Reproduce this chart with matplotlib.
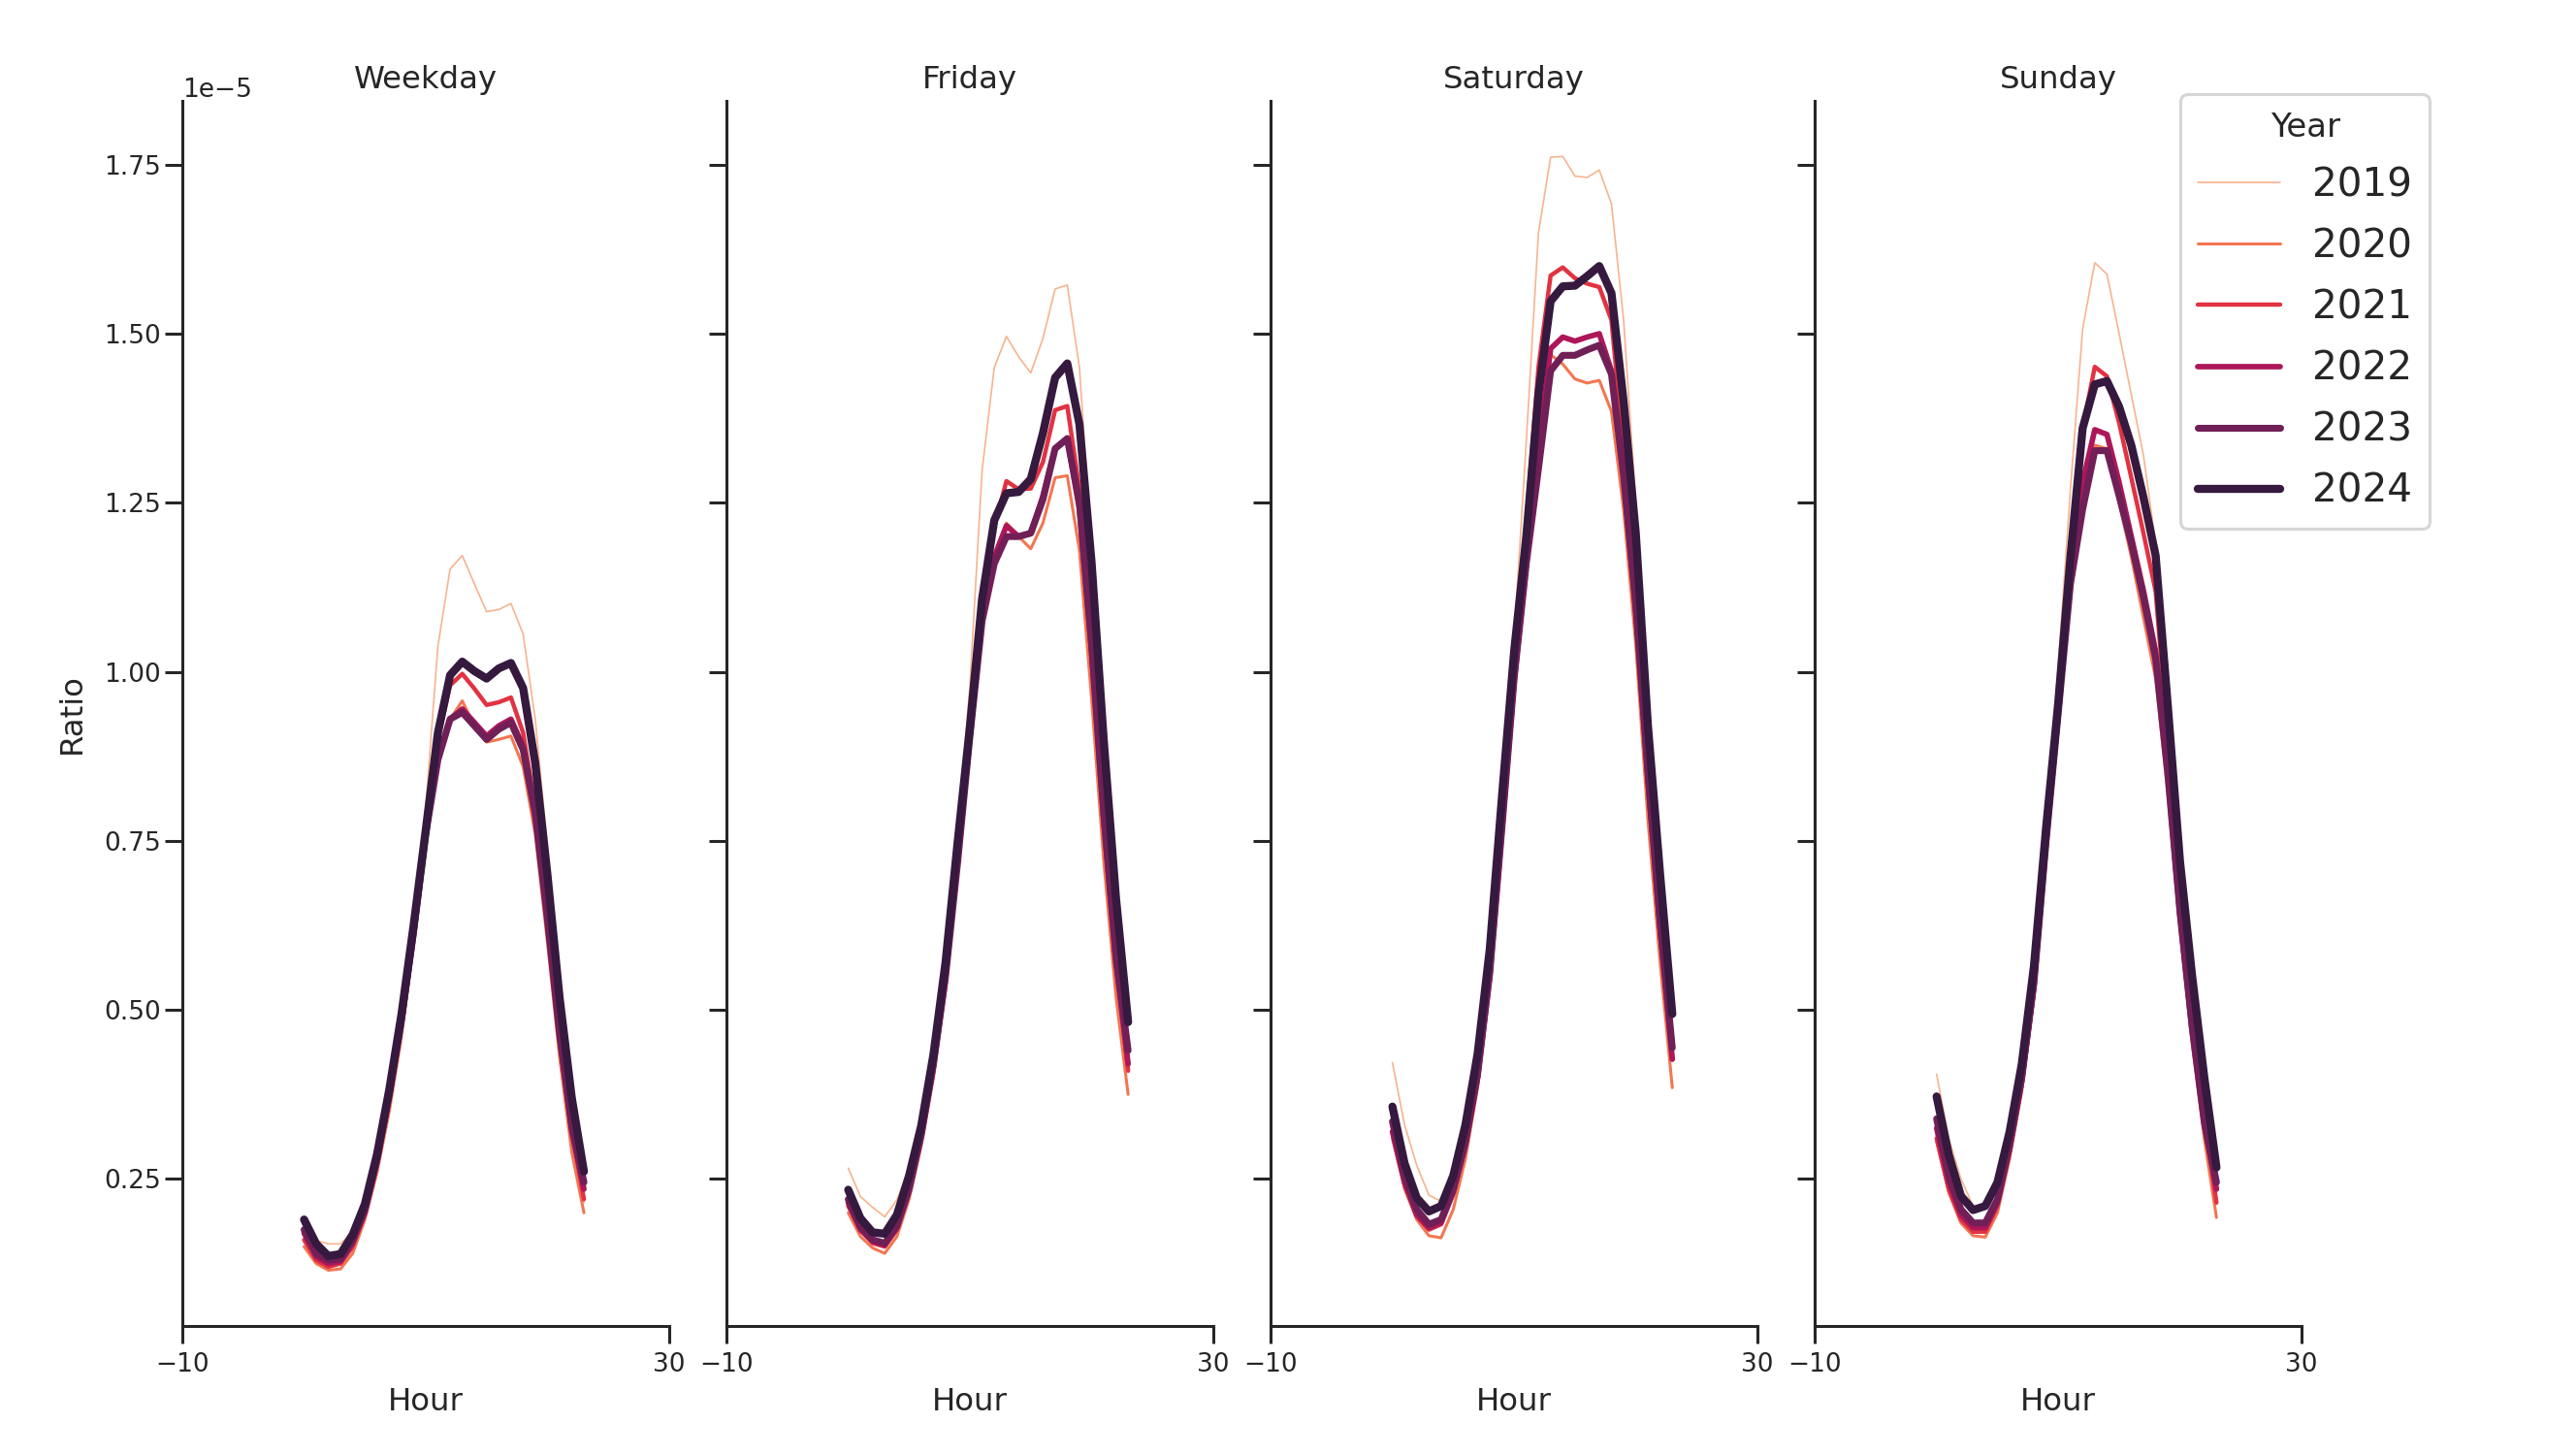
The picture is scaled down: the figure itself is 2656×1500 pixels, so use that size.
import numpy as np
import matplotlib
matplotlib.use("Agg")
import matplotlib.pyplot as plt

# hourly ratio (in units of 1e-5), one list per year and day type
hours = list(range(24))
years = ["2019", "2020", "2021", "2022", "2023", "2024"]
day_types = ["Weekday", "Friday", "Saturday", "Sunday"]

weekday = {
    "2019": [0.18, 0.159, 0.154, 0.154, 0.172, 0.213, 0.279, 0.378, 0.485, 0.634, 0.80, 1.038,
             1.152, 1.172, 1.130, 1.089, 1.092, 1.101, 1.056, 0.93, 0.74, 0.535, 0.37, 0.215],
    "2020": [0.15, 0.125, 0.115, 0.117, 0.14, 0.19, 0.26, 0.35, 0.46, 0.60, 0.75, 0.88,
             0.93, 0.957, 0.92, 0.896, 0.90, 0.905, 0.86, 0.76, 0.60, 0.43, 0.29, 0.20],
    "2021": [0.16, 0.13, 0.12, 0.125, 0.15, 0.20, 0.27, 0.37, 0.48, 0.61, 0.76, 0.90,
             0.98, 0.997, 0.975, 0.951, 0.955, 0.962, 0.91, 0.80, 0.63, 0.46, 0.32, 0.22],
    "2022": [0.17, 0.135, 0.125, 0.128, 0.155, 0.20, 0.275, 0.37, 0.48, 0.61, 0.76, 0.87,
             0.93, 0.945, 0.925, 0.905, 0.92, 0.93, 0.89, 0.79, 0.63, 0.46, 0.32, 0.235],
    "2023": [0.175, 0.14, 0.13, 0.132, 0.16, 0.205, 0.28, 0.375, 0.485, 0.615, 0.76, 0.87,
             0.93, 0.94, 0.92, 0.90, 0.915, 0.925, 0.885, 0.79, 0.635, 0.465, 0.33, 0.245],
    "2024": [0.190, 0.154, 0.136, 0.139, 0.168, 0.213, 0.287, 0.382, 0.493, 0.625, 0.766, 0.910,
             0.995, 1.015, 1.001, 0.990, 1.005, 1.013, 0.976, 0.865, 0.700, 0.518, 0.370, 0.261],
}

friday = {
    "2019": [0.266, 0.224, 0.208, 0.194, 0.219, 0.266, 0.34, 0.445, 0.58, 0.76, 0.98, 1.298,
             1.45, 1.496, 1.466, 1.442, 1.493, 1.566, 1.572, 1.45, 1.18, 0.91, 0.655, 0.42],
    "2020": [0.20, 0.165, 0.148, 0.14, 0.165, 0.22, 0.30, 0.40, 0.53, 0.71, 0.90, 1.07,
             1.17, 1.22, 1.20, 1.182, 1.22, 1.287, 1.29, 1.18, 0.96, 0.72, 0.52, 0.375],
    "2021": [0.21, 0.175, 0.155, 0.15, 0.175, 0.23, 0.31, 0.41, 0.54, 0.72, 0.91, 1.09,
             1.215, 1.282, 1.27, 1.271, 1.31, 1.387, 1.393, 1.27, 1.05, 0.79, 0.57, 0.41],
    "2022": [0.215, 0.175, 0.158, 0.152, 0.18, 0.235, 0.315, 0.42, 0.55, 0.72, 0.905, 1.08,
             1.17, 1.216, 1.20, 1.205, 1.26, 1.33, 1.345, 1.24, 1.03, 0.78, 0.57, 0.42],
    "2023": [0.22, 0.18, 0.16, 0.155, 0.18, 0.235, 0.315, 0.42, 0.55, 0.72, 0.905, 1.075,
             1.16, 1.20, 1.20, 1.205, 1.255, 1.33, 1.345, 1.25, 1.04, 0.79, 0.58, 0.44],
    "2024": [0.234, 0.192, 0.171, 0.169, 0.197, 0.255, 0.329, 0.434, 0.571, 0.750, 0.919, 1.108,
             1.224, 1.264, 1.266, 1.285, 1.353, 1.435, 1.456, 1.366, 1.161, 0.898, 0.666, 0.482],
}

saturday = {
    "2019": [0.422, 0.33, 0.27, 0.226, 0.217, 0.24, 0.31, 0.42, 0.58, 0.82, 1.05, 1.34,
             1.649, 1.761, 1.762, 1.733, 1.731, 1.742, 1.692, 1.52, 1.25, 0.93, 0.67, 0.44],
    "2020": [0.31, 0.235, 0.19, 0.166, 0.163, 0.205, 0.28, 0.385, 0.54, 0.76, 0.99, 1.17,
             1.33, 1.469, 1.455, 1.433, 1.427, 1.431, 1.385, 1.24, 1.04, 0.78, 0.57, 0.385],
    "2021": [0.32, 0.243, 0.195, 0.175, 0.183, 0.23, 0.30, 0.40, 0.55, 0.77, 1.00, 1.22,
             1.45, 1.586, 1.598, 1.582, 1.574, 1.569, 1.52, 1.33, 1.10, 0.83, 0.61, 0.43],
    "2022": [0.32, 0.245, 0.197, 0.178, 0.185, 0.23, 0.30, 0.40, 0.55, 0.765, 0.985, 1.16,
             1.33, 1.478, 1.495, 1.489, 1.495, 1.50, 1.445, 1.29, 1.09, 0.84, 0.62, 0.427],
    "2023": [0.335, 0.255, 0.205, 0.183, 0.19, 0.235, 0.305, 0.405, 0.555, 0.77, 0.99, 1.16,
             1.30, 1.445, 1.468, 1.468, 1.476, 1.483, 1.44, 1.29, 1.10, 0.85, 0.63, 0.444],
    "2024": [0.357, 0.273, 0.222, 0.202, 0.21, 0.255, 0.33, 0.435, 0.59, 0.815, 1.03, 1.20,
             1.41, 1.548, 1.570, 1.571, 1.585, 1.600, 1.560, 1.40, 1.205, 0.92, 0.70, 0.494],
}

sunday = {
    "2019": [0.405, 0.31, 0.25, 0.21, 0.205, 0.235, 0.31, 0.41, 0.55, 0.77, 1.01, 1.27,
             1.507, 1.605, 1.588, 1.50, 1.41, 1.32, 1.19, 0.93, 0.70, 0.52, 0.37, 0.24],
    "2020": [0.306, 0.23, 0.185, 0.166, 0.164, 0.20, 0.28, 0.38, 0.52, 0.73, 0.93, 1.13,
             1.26, 1.335, 1.33, 1.25, 1.17, 1.08, 0.99, 0.82, 0.62, 0.45, 0.31, 0.193],
    "2021": [0.31, 0.235, 0.19, 0.172, 0.172, 0.21, 0.29, 0.39, 0.53, 0.74, 0.945, 1.16,
             1.36, 1.451, 1.437, 1.368, 1.287, 1.205, 1.119, 0.90, 0.67, 0.49, 0.34, 0.215],
    "2022": [0.325, 0.245, 0.197, 0.178, 0.178, 0.215, 0.295, 0.395, 0.535, 0.745, 0.94, 1.14,
             1.28, 1.358, 1.351, 1.28, 1.20, 1.12, 1.03, 0.85, 0.64, 0.47, 0.33, 0.235],
    "2023": [0.339, 0.255, 0.205, 0.185, 0.185, 0.22, 0.30, 0.40, 0.54, 0.75, 0.94, 1.13,
             1.24, 1.327, 1.327, 1.26, 1.19, 1.11, 1.02, 0.85, 0.645, 0.475, 0.335, 0.245],
    "2024": [0.372, 0.286, 0.225, 0.204, 0.21, 0.245, 0.32, 0.42, 0.565, 0.77, 0.955, 1.17,
             1.36, 1.425, 1.430, 1.392, 1.335, 1.258, 1.172, 0.95, 0.72, 0.55, 0.40, 0.267],
}

all_data = [weekday, friday, saturday, sunday]

# rocket_r palette, thin -> thick
colors = ["#f6b48f", "#f37651", "#e13342", "#ad1759", "#701f57", "#35193e"]
widths = [1.2, 2.2, 3.2, 4.1, 5.1, 6.0]

dark = "#262626"
plt.rcParams.update({
    "font.family": "DejaVu Sans",
    "text.color": dark,
    "axes.labelcolor": dark,
    "axes.edgecolor": dark,
    "xtick.color": dark,
    "ytick.color": dark,
    "axes.linewidth": 2.2,
    "xtick.major.width": 2.2,
    "ytick.major.width": 2.2,
    "xtick.major.size": 12.7,
    "ytick.major.size": 12.7,
    "xtick.major.pad": 6.5,
    "xtick.labelsize": 19,
    "ytick.labelsize": 19,
    "lines.solid_capstyle": "round",
})

fig, axes = plt.subplots(1, 4, figsize=(26.56, 15), dpi=100, sharey=True)
fig.subplots_adjust(left=0.0708, right=0.8935, bottom=0.0887, top=0.9307, wspace=0.118)

for ax, name, data in zip(axes, day_types, all_data):
    for yr, c, lw in zip(years, colors, widths):
        ax.plot(hours, np.array(data[yr]) * 1e-5, color=c, lw=lw, label=yr)
    ax.set_title(name, fontsize=23.3, pad=9)
    ax.set_xlabel("Hour", fontsize=23.3, labelpad=7.5)
    ax.set_xlim(-10, 30)
    ax.set_xticks([-10, 30])
    for s in ["top", "right"]:
        ax.spines[s].set_visible(False)
    ax.tick_params(axis="y", labelleft=(ax is axes[0]))

axes[0].set_ylabel("Ratio", fontsize=23.3, labelpad=12)
axes[0].yaxis.get_offset_text().set_fontsize(19)

handles, labels = axes[0].get_legend_handles_labels()
leg = fig.legend(handles, labels, title="Year", loc="upper left",
                 bbox_to_anchor=(0.8464, 0.9353), borderaxespad=0,
                 fontsize=29.2, title_fontsize=24.5, frameon=True, fancybox=True,
                 borderpad=0.45, labelspacing=0.57, handlelength=2.1)
leg.get_frame().set_edgecolor("0.8")
leg.get_frame().set_linewidth(2.2)

fig.savefig("out.png", dpi=100)
